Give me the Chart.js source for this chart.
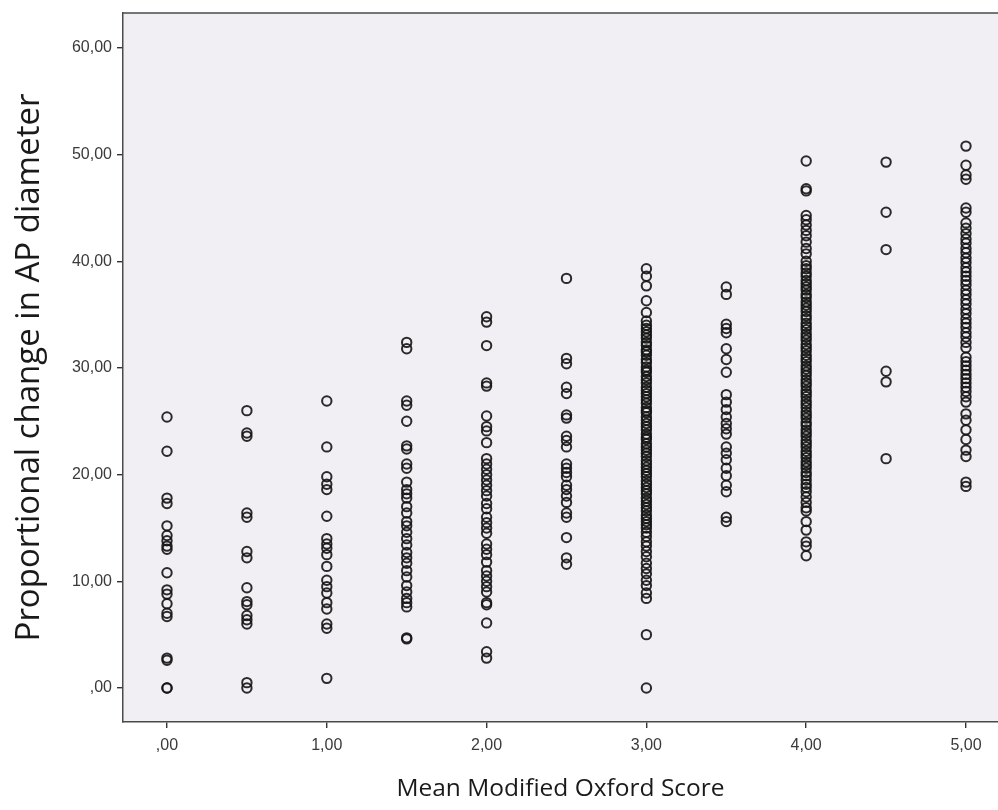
<!DOCTYPE html>
<html>
<head>
<meta charset="utf-8">
<script src="https://cdn.jsdelivr.net/npm/chart.js@4/dist/chart.umd.min.js"></script>
<style>
  html, body { margin: 0; padding: 0; background: #fff; overflow: hidden; }
  #wrap { width: 998px; height: 810px; }
  canvas { display: block; }
</style>
</head>
<body>
<div id="wrap"><canvas id="chart" width="998" height="810"></canvas></div>
<script>
// mean modified oxford score levels
const scores = [0, 0.5, 1, 1.5, 2, 2.5, 3, 3.5, 4, 4.5, 5]

// proportional change in AP diameter, one array per score level
const apAt0 = [25.4, 22.2, 17.8, 17.3, 15.2, 14.3, 13.8, 13.3, 13.0, 10.8, 9.2, 8.8, 7.9, 7.0, 6.7, 2.8, 2.6, 0.0, 0.0]
const apAt05 = [26.0, 23.9, 23.6, 16.4, 16.0, 12.8, 12.2, 9.4, 8.1, 7.8, 6.8, 6.4, 6.0, 0.5, 0.0]
const apAt1 = [26.9, 22.6, 19.8, 19.1, 18.6, 16.1, 14.0, 13.5, 13.1, 12.5, 11.4, 10.1, 9.5, 8.9, 8.0, 7.4, 6.0, 5.6, 0.9]
const apAt15 = [32.4, 31.8, 26.9, 26.5, 25.0, 22.7, 22.4, 21.0, 20.6, 19.3, 18.6, 18.2, 17.8, 17.0, 16.4, 15.6,
  15.2, 14.6, 14.0, 13.4, 12.7, 12.2, 11.7, 11.0, 10.4, 9.6, 9.0, 8.4, 8.0, 7.6, 4.7, 4.6]
const apAt2 = [34.8, 34.3, 32.1, 28.6, 28.3, 25.5, 24.5, 24.1, 23.0, 21.5, 21.0, 20.5, 20.0, 19.5, 19.0, 18.5,
  18.0, 17.3, 16.8, 16.0, 15.5, 15.0, 14.5, 13.5, 13.0, 12.5, 11.8, 11.0, 10.5, 10.0, 9.5, 9.0, 8.0, 7.8, 6.1, 3.4, 2.8]
const apAt25 = [38.4, 30.9, 30.4, 28.2, 27.6, 25.6, 25.3, 23.6, 23.2, 22.6, 21.0, 20.6, 20.2, 19.8, 19.0, 18.6,
  18.0, 17.4, 16.4, 16.0, 14.1, 12.2, 11.6]
const apAt3 = [39.3, 38.6, 37.7, 36.3, 35.2, 34.4, 34.0, 33.7, 33.4, 33.1, 32.8, 32.4, 32.1, 31.7, 31.5, 31.2,
  30.8, 30.5, 30.1, 29.8, 29.6, 29.2, 28.9, 28.6, 28.2, 27.9, 27.6, 27.3, 27.0, 26.7, 26.3, 26.0, 25.8, 25.4,
  25.1, 24.8, 24.5, 24.2, 23.8, 23.5, 23.3, 22.9, 22.6, 22.3, 22.0, 21.7, 21.3, 21.0, 20.7, 20.4, 20.1, 19.8,
  19.4, 19.1, 18.8, 18.5, 18.2, 17.8, 17.5, 17.2, 16.9, 16.6, 16.2, 15.9, 15.6, 15.3, 15.0, 14.6, 14.2, 13.7,
  13.3, 12.8, 12.3, 11.7, 11.2, 10.7, 10.1, 9.6, 8.9, 8.4, 5.0, 0.0]
const apAt35 = [37.6, 36.9, 34.1, 33.7, 33.3, 31.8, 30.8, 29.6, 27.5, 26.8, 26.1, 25.4, 24.8, 24.3, 23.8, 22.6,
  22.0, 21.4, 20.6, 19.9, 19.0, 18.4, 16.0, 15.6]
const apAt4 = [49.4, 46.8, 46.6, 44.3, 43.9, 43.4, 42.9, 42.4, 41.8, 41.2, 40.7, 40.0, 39.6, 39.3, 38.9, 38.6,
  38.2, 37.9, 37.6, 37.3, 36.9, 36.6, 36.2, 35.9, 35.6, 35.3, 34.9, 34.6, 34.2, 33.9, 33.6, 33.2, 32.9, 32.6,
  32.2, 31.9, 31.6, 31.2, 30.9, 30.6, 30.2, 29.9, 29.6, 29.3, 28.9, 28.6, 28.3, 27.9, 27.6, 27.3, 26.9, 26.6,
  26.3, 25.9, 25.6, 25.3, 24.9, 24.6, 24.2, 23.9, 23.6, 23.2, 22.9, 22.6, 22.2, 21.9, 21.6, 21.2, 20.9, 20.6,
  20.2, 19.9, 19.5, 19.1, 18.8, 18.4, 17.9, 17.4, 16.9, 16.6, 15.6, 14.8, 13.7, 13.3, 12.4]
const apAt45 = [49.3, 44.6, 41.1, 29.7, 28.7, 21.5]
const apAt5 = [50.8, 49.0, 48.1, 47.7, 45.0, 44.6, 43.6, 43.1, 42.6, 42.1, 41.7, 41.2, 40.8, 40.3, 39.9, 39.4,
  39.0, 38.6, 38.2, 37.8, 37.3, 36.9, 36.4, 36.0, 35.5, 35.1, 34.6, 34.2, 33.8, 33.3, 32.9, 32.4, 31.9, 31.0,
  30.6, 30.2, 29.8, 29.4, 29.0, 28.6, 28.2, 27.8, 27.3, 26.8, 25.7, 25.1, 24.2, 23.3, 22.3, 21.7, 19.3, 18.9]

const apByScore = [apAt0, apAt05, apAt1, apAt15, apAt2, apAt25, apAt3, apAt35, apAt4, apAt45, apAt5]

const xTicks = [0, 1, 2, 3, 4, 5]
const yTicks = [0, 10, 20, 30, 40, 50, 60]

// comma decimal like the spss output: ,00  10,00
function fmt (v) {
  let s = v.toFixed(2).replace('.', ',')
  if (s.startsWith('0,')) s = s.slice(1)
  return s
}

let points = []
scores.forEach((sc, i) => {
  apByScore[i].forEach(v => points.push({ x: sc, y: v }))
})

const plotBg = {
  id: 'plotBg',
  beforeDraw (chart) {
    let { ctx, chartArea: a } = chart
    ctx.save()
    ctx.fillStyle = '#f1eff4'
    ctx.fillRect(a.left, a.top, a.right - a.left, a.bottom - a.top)
    ctx.restore()
  },
  afterDraw (chart) {
    let { ctx, chartArea: a } = chart
    ctx.save()
    ctx.strokeStyle = '#4a4a4a'
    ctx.lineWidth = 1.5
    ctx.beginPath()
    ctx.moveTo(a.right, a.top)
    ctx.lineTo(a.left, a.top)
    ctx.stroke()
    ctx.restore()
  }
}

let ctx = document.getElementById('chart').getContext('2d')
let myChart = new Chart(ctx, {
  type: 'scatter',
  data: {
    datasets: [{
      data: points,
      pointStyle: 'circle',
      pointRadius: 4.7,
      pointBorderWidth: 2,
      pointBorderColor: 'rgba(20,20,20,0.9)',
      pointBackgroundColor: 'rgba(0,0,0,0)'
    }]
  },
  options: {
    responsive: false,
    animation: false,
    layout: { autoPadding: false, padding: { top: 13, right: 0, bottom: 0, left: 0 } },
    plugins: {
      legend: { display: false },
      tooltip: { enabled: false }
    },
    scales: {
      x: {
        type: 'linear',
        min: -0.2753,
        max: 5.2003,
        afterBuildTicks: s => { s.ticks = xTicks.map(v => ({ value: v })) },
        afterFit: s => {
          s.height = 88
          s.paddingLeft = 0
          s.paddingRight = 0
        },
        ticks: {
          callback: v => fmt(v),
          color: '#3a3a3a',
          font: { family: 'Liberation Sans', size: 16 },
          padding: 8,
          maxRotation: 0
        },
        grid: { drawOnChartArea: false, drawTicks: true, tickLength: 6, color: '#333', lineWidth: 1.4 },
        border: { display: true, color: '#4a4a4a', width: 1.5 },
        title: {
          display: true,
          text: 'Mean Modified Oxford Score',
          color: '#1a1a1a',
          font: { family: 'Open Sans', size: 24.5 },
          padding: { top: 0, bottom: 6 }
        }
      },
      y: {
        type: 'linear',
        min: -3.19,
        max: 63.28,
        afterBuildTicks: s => { s.ticks = yTicks.map(v => ({ value: v })) },
        afterFit: s => {
          s.width = 123
          s.paddingTop = 0
          s.paddingBottom = 0
        },
        ticks: {
          callback: v => fmt(v),
          color: '#3a3a3a',
          font: { family: 'Liberation Sans', size: 16 },
          padding: 5
        },
        grid: { drawOnChartArea: false, drawTicks: true, tickLength: 6, color: '#333', lineWidth: 1.4 },
        border: { display: true, color: '#4a4a4a', width: 1.5 },
        title: {
          display: true,
          text: 'Proportional change in AP diameter',
          color: '#1a1a1a',
          font: { family: 'Open Sans', size: 33 },
          padding: { top: 10, bottom: 0 }
        }
      }
    }
  },
  plugins: [plotBg]
})
</script>
</body>
</html>
